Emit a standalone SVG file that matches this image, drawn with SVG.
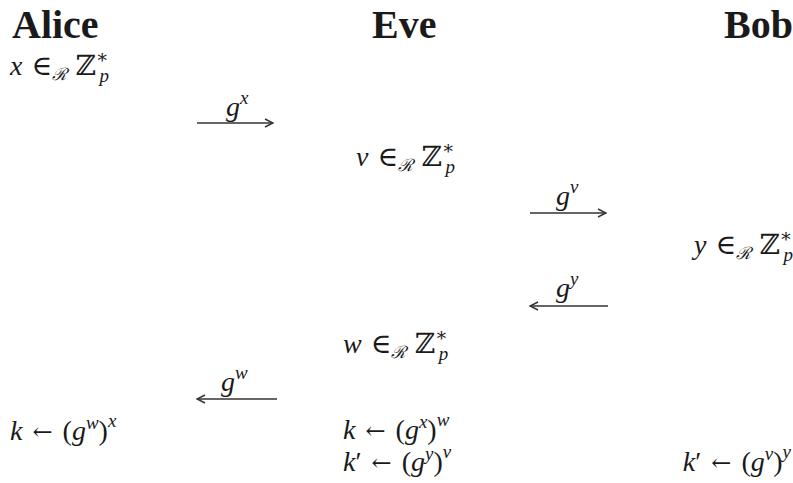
<svg xmlns="http://www.w3.org/2000/svg" width="793" height="483" viewBox="0 0 793 483">
<style>
.h { font-family: "Liberation Serif", "DejaVu Serif", serif; font-weight: bold; font-size: 40px; fill: #1a1a1a; }
.m { font-family: "Liberation Serif", "DejaVu Serif", serif; font-size: 28px; fill: #1a1a1a; white-space: pre; }
.i { font-style: italic; }
.sup { font-size: 19px; }
.sub { font-size: 17px; font-style: italic; }
.la { font-family: "DejaVu Serif", serif; font-size: 24px; }
.arr { stroke: #333; stroke-width: 1.4; fill: none; }
</style>
<defs>
<marker id="ah" viewBox="0 0 10 10" refX="9" refY="5" markerWidth="10" markerHeight="10" markerUnits="userSpaceOnUse" orient="auto">
<path d="M1,1 L9,5 L1,9" fill="none" stroke="#333" stroke-width="1.4"/>
</marker>
</defs>
<g id="alice">
<text class="h" x="12" y="38">Alice</text>
<text class="m" x="10" y="75"><tspan class="i">x</tspan><tspan dx="9">∈</tspan><tspan class="sub" dy="5">ℛ</tspan><tspan dx="8" dy="-5">ℤ</tspan><tspan class="sup" dy="-12">∗</tspan><tspan class="sup i" dx="-9" dy="19">p</tspan></text>
<text class="m" x="10" y="440"><tspan class="i">k</tspan><tspan class="la" dx="10">←</tspan><tspan dx="10">(</tspan><tspan class="i">g</tspan><tspan class="sup i" dy="-11">w</tspan><tspan dy="11">)</tspan><tspan class="sup i" dy="-13">x</tspan></text>
</g>
<g id="eve">
<text class="h" x="372" y="38">Eve</text>
<text class="m" x="356" y="166"><tspan class="i">v</tspan><tspan dx="9">∈</tspan><tspan class="sub" dy="5">ℛ</tspan><tspan dx="8" dy="-5">ℤ</tspan><tspan class="sup" dy="-12">∗</tspan><tspan class="sup i" dx="-9" dy="19">p</tspan></text>
<text class="m" x="343" y="353"><tspan class="i">w</tspan><tspan dx="9">∈</tspan><tspan class="sub" dy="5">ℛ</tspan><tspan dx="8" dy="-5">ℤ</tspan><tspan class="sup" dy="-12">∗</tspan><tspan class="sup i" dx="-9" dy="19">p</tspan></text>
<text class="m" x="343" y="439"><tspan class="i">k</tspan><tspan class="la" dx="10">←</tspan><tspan dx="10">(</tspan><tspan class="i">g</tspan><tspan class="sup i" dy="-11">x</tspan><tspan dy="11">)</tspan><tspan class="sup i" dy="-13">w</tspan></text>
<text class="m" x="343" y="471"><tspan class="i">k</tspan>′<tspan class="la" dx="10">←</tspan><tspan dx="10">(</tspan><tspan class="i">g</tspan><tspan class="sup i" dy="-11">y</tspan><tspan dy="11">)</tspan><tspan class="sup i" dy="-13">v</tspan></text>
</g>
<g id="bob">
<text class="h" x="793" y="38" text-anchor="end">Bob</text>
<text class="m" x="793" y="254" text-anchor="end"><tspan class="i">y</tspan><tspan dx="9">∈</tspan><tspan class="sub" dy="5">ℛ</tspan><tspan dx="8" dy="-5">ℤ</tspan><tspan class="sup" dy="-12">∗</tspan><tspan class="sup i" dx="-9" dy="19">p</tspan></text>
<text class="m" x="791" y="471" text-anchor="end"><tspan class="i">k</tspan>′<tspan class="la" dx="10">←</tspan><tspan dx="10">(</tspan><tspan class="i">g</tspan><tspan class="sup i" dy="-11">v</tspan><tspan dy="11">)</tspan><tspan class="sup i" dy="-13">y</tspan></text>
</g>
<g id="connectors">
<line class="arr" x1="197" y1="123" x2="273" y2="123" marker-end="url(#ah)"/>
<text class="m" x="226" y="116"><tspan class="i">g</tspan><tspan class="sup i" dy="-12">x</tspan></text>
<line class="arr" x1="530" y1="213" x2="606" y2="213" marker-end="url(#ah)"/>
<text class="m" x="556" y="205"><tspan class="i">g</tspan><tspan class="sup i" dy="-12">v</tspan></text>
<line class="arr" x1="608" y1="306" x2="530" y2="306" marker-end="url(#ah)"/>
<text class="m" x="556" y="297"><tspan class="i">g</tspan><tspan class="sup i" dy="-12">y</tspan></text>
<line class="arr" x1="277" y1="399" x2="197" y2="399" marker-end="url(#ah)"/>
<text class="m" x="221" y="391"><tspan class="i">g</tspan><tspan class="sup i" dy="-12">w</tspan></text>
</g>
</svg>
